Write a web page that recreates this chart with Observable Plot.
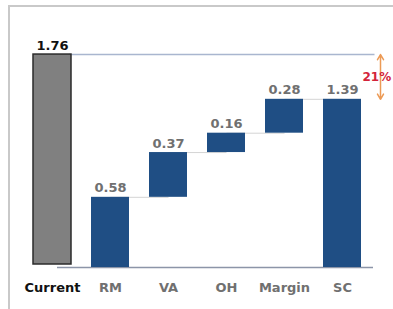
<!DOCTYPE html>
<html>
<head>
<meta charset="utf-8">
<script src="https://cdn.jsdelivr.net/npm/d3@7"></script>
<script src="https://cdn.jsdelivr.net/npm/@observablehq/plot@0.6"></script>
<style>
  html, body { margin: 0; padding: 0; background: white; }
  #wrap { position: relative; width: 393px; height: 309px; overflow: hidden; }
  #frame { position: absolute; left: 8px; top: 5px; width: 420px; height: 340px;
           border-top: 2px solid #c9c9c9; border-left: 2px solid #c9c9c9; pointer-events: none; }
  #wrap svg { position: absolute; left: 0; top: 0; background: transparent; }
</style>
</head>
<body>
<div id="wrap"><div id="frame"></div></div>
<script>
// ---- data ----
const categories = ["Current", "RM", "VA", "OH", "Margin", "SC"];
const values = [1.76, 0.58, 0.37, 0.16, 0.28, 1.39];
const kinds = ["total", "step", "step", "step", "step", "total"];
const labelColors = ["#111111", "#707070", "#707070", "#707070", "#707070", "#707070"];
const gapLabel = ["21%"];

// ---- build waterfall table ----
let run = 0;
const bars = categories.map((c, i) => {
  let y1, y2;
  if (kinds[i] === "total") { y1 = 0; y2 = values[i]; run = (i === 0) ? 0 : values[i]; }
  else { y1 = run; y2 = run + values[i]; run = y2; }
  return {cat: c, value: values[i], y1, y2, kind: kinds[i], color: labelColors[i], i};
});
const links = [];
for (let i = 1; i < bars.length - 1; i++) {
  links.push({a: bars[i].cat, b: bars[i + 1].cat, y: bars[i].y2});
}
const topVal = values[0];
const endVal = values[values.length - 1];
const gap = [{cat: categories[categories.length - 1], y1: (topVal + endVal) / 2, yTop: topVal, yBot: endVal, label: gapLabel[0]}];

const navy = "#1f4e84";

const chart = Plot.plot({
  width: 393,
  height: 309,
  marginLeft: 10.5,
  marginRight: 10.5,
  marginTop: 25,
  marginBottom: 42,
  style: {fontFamily: "DejaVu Sans", fontSize: "13px", fontWeight: "bold", background: "transparent"},
  x: {domain: categories, padding: 0.352, axis: null},
  y: {domain: [0, 2.0], axis: null},
  color: {type: "identity"},
  marks: [
    // connectors
    Plot.link(links, {x1: "a", x2: "b", y1: "y", y2: "y", stroke: "#d4d4d4", strokeWidth: 1}),
    // top reference line at current value
    Plot.ruleY([topVal], {stroke: "#a9b6cf", strokeWidth: 1.5, insetLeft: 58.5, insetRight: 8}),
    // baseline
    Plot.ruleY([0], {stroke: "#8c95a8", strokeWidth: 1.5, insetLeft: 46.5, insetRight: 9.5}),
    // bars
    Plot.barY(bars.filter(d => d.i === 0), {x: "cat", y1: "y1", y2: "y2", fill: "#808080", stroke: "#2b2b2b", strokeWidth: 1.5, insetBottom: 3}),
    Plot.barY(bars.filter(d => d.i !== 0), {x: "cat", y1: "y1", y2: "y2", fill: navy}),
    // value labels
    Plot.text(bars, {x: "cat", y: "y2", text: d => d.value.toFixed(2), fill: "color", lineAnchor: "bottom", dy: -5}),
    // category labels
    Plot.text(bars, {x: "cat", text: "cat", fill: "color", frameAnchor: "bottom", lineAnchor: "top", dy: 15}),
    // gap arrow (double-headed)
    Plot.arrow(gap, {x1: "cat", x2: "cat", y1: "y1", y2: "yTop", stroke: "#ec9a55", strokeWidth: 1.5, headLength: 6, dx: 38}),
    Plot.arrow(gap, {x1: "cat", x2: "cat", y1: "y1", y2: "yBot", stroke: "#ec9a55", strokeWidth: 1.5, headLength: 6, dx: 38}),
    Plot.text(gap, {x: "cat", y: "y1", text: "label", fill: "#d3243a", fontSize: 12, textAnchor: "start", dx: 20})
  ]
});
document.getElementById("wrap").insertBefore(chart, document.getElementById("frame"));
</script>
</body>
</html>
